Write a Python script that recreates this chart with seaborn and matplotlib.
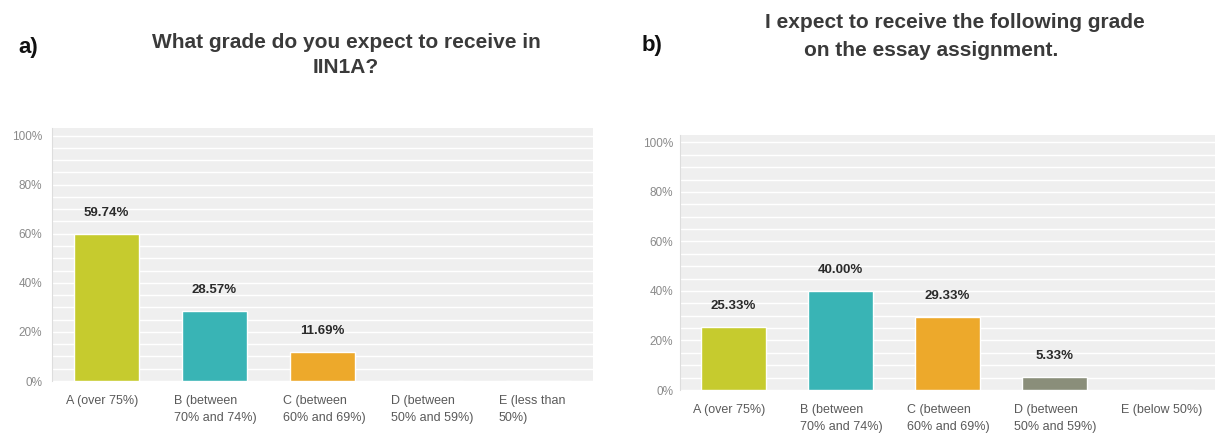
import seaborn as sns
import matplotlib.pyplot as plt
import matplotlib.transforms as mtransforms
from matplotlib.ticker import MultipleLocator, FuncFormatter
import pandas as pd

# --------------------
# Data
# --------------------
labels_a = ["A (over 75%)", "B (between\n70% and 74%)", "C (between\n60% and 69%)",
            "D (between\n50% and 59%)", "E (less than\n50%)"]
values_a = [59.74, 28.57, 11.69, 0.0, 0.0]

labels_b = ["A (over 75%)", "B (between\n70% and 74%)", "C (between\n60% and 69%)",
            "D (between\n50% and 59%)", "E (below 50%)"]
values_b = [25.33, 40.00, 29.33, 5.33, 0.0]

bar_colors = ["#c6cb2e", "#39b4b5", "#eda92b", "#8a8e7a", "#b0b0b0"]

title_a = "What grade do you expect to receive in\nIIN1A?"
title_b1 = "I expect to receive the following grade"
title_b2 = "on the essay assignment."

sns.set_style("white")
plt.rcParams["font.family"] = ["Liberation Sans", "DejaVu Sans"]

fig = plt.figure(figsize=(12.19, 4.33), dpi=100)
ax_a = fig.add_axes([0.0427, 0.120, 0.4438, 0.584])
ax_b = fig.add_axes([0.5578, 0.0993, 0.4389, 0.589])


def draw_panel(ax, labels, values, ypad):
    df = pd.DataFrame({"grade": labels, "pct": values})
    sns.barplot(data=df, x="grade", y="pct", hue="grade", palette=bar_colors,
                width=0.6, legend=False, ax=ax, saturation=1)
    ax.set_facecolor("#efefef")
    ax.set_ylim(0, 103)
    ax.set_xlim(-0.5, 4.5)
    ax.yaxis.set_major_locator(MultipleLocator(20))
    ax.yaxis.set_minor_locator(MultipleLocator(5))
    ax.yaxis.set_major_formatter(FuncFormatter(lambda v, p: f"{v:.0f}%"))
    ax.grid(axis="y", which="both", color="white", linewidth=1.0)
    ax.set_axisbelow(True)
    for s in ["top", "right", "bottom"]:
        ax.spines[s].set_visible(False)
    ax.spines["left"].set_color("#dddddd")
    ax.set_xlabel("")
    ax.set_ylabel("")
    ax.tick_params(axis="y", labelsize=8.5, labelcolor="#8a8a8a", length=0, pad=ypad)
    ax.tick_params(axis="x", labelsize=9, labelcolor="#5a5a5a", length=0, pad=10)
    shift = mtransforms.ScaledTranslation(-0.40, 0, fig.dpi_scale_trans)
    for t in ax.get_xticklabels():
        t.set_ha("left")
        t.set_multialignment("left")
        t.set_linespacing(1.6)
        t.set_transform(t.get_transform() + shift)
    for bar, v in zip(ax.patches, values):
        if v > 0:
            ax.annotate(f"{v:.2f}%", (bar.get_x() + bar.get_width() / 2, v),
                        xytext=(0, 11), textcoords="offset points",
                        ha="center", va="bottom", fontsize=9.5, fontweight="bold",
                        color="#2a2a2a")


draw_panel(ax_a, labels_a, values_a, 7)
draw_panel(ax_b, labels_b, values_b, 5)

# titles
fig.text(18 / 1219, 1 - 47 / 433, "a)", fontsize=16, fontweight="bold", va="center", ha="left", color="#111111")
fig.text(642 / 1219, 1 - 45 / 433, "b)", fontsize=16, fontweight="bold", va="center", ha="left", color="#111111")
fig.text(346 / 1219, 1 - 55 / 433, title_a, fontsize=15, fontweight="bold", ha="center", va="center",
         color="#3a3a3a", linespacing=1.4)
fig.text(955 / 1219, 1 - 22 / 433, title_b1, fontsize=15, fontweight="bold", ha="center", va="center",
         color="#3a3a3a")
fig.text(931 / 1219, 1 - 50 / 433, title_b2, fontsize=15, fontweight="bold", ha="center", va="center",
         color="#3a3a3a")

plt.savefig("out.png", dpi=100)
